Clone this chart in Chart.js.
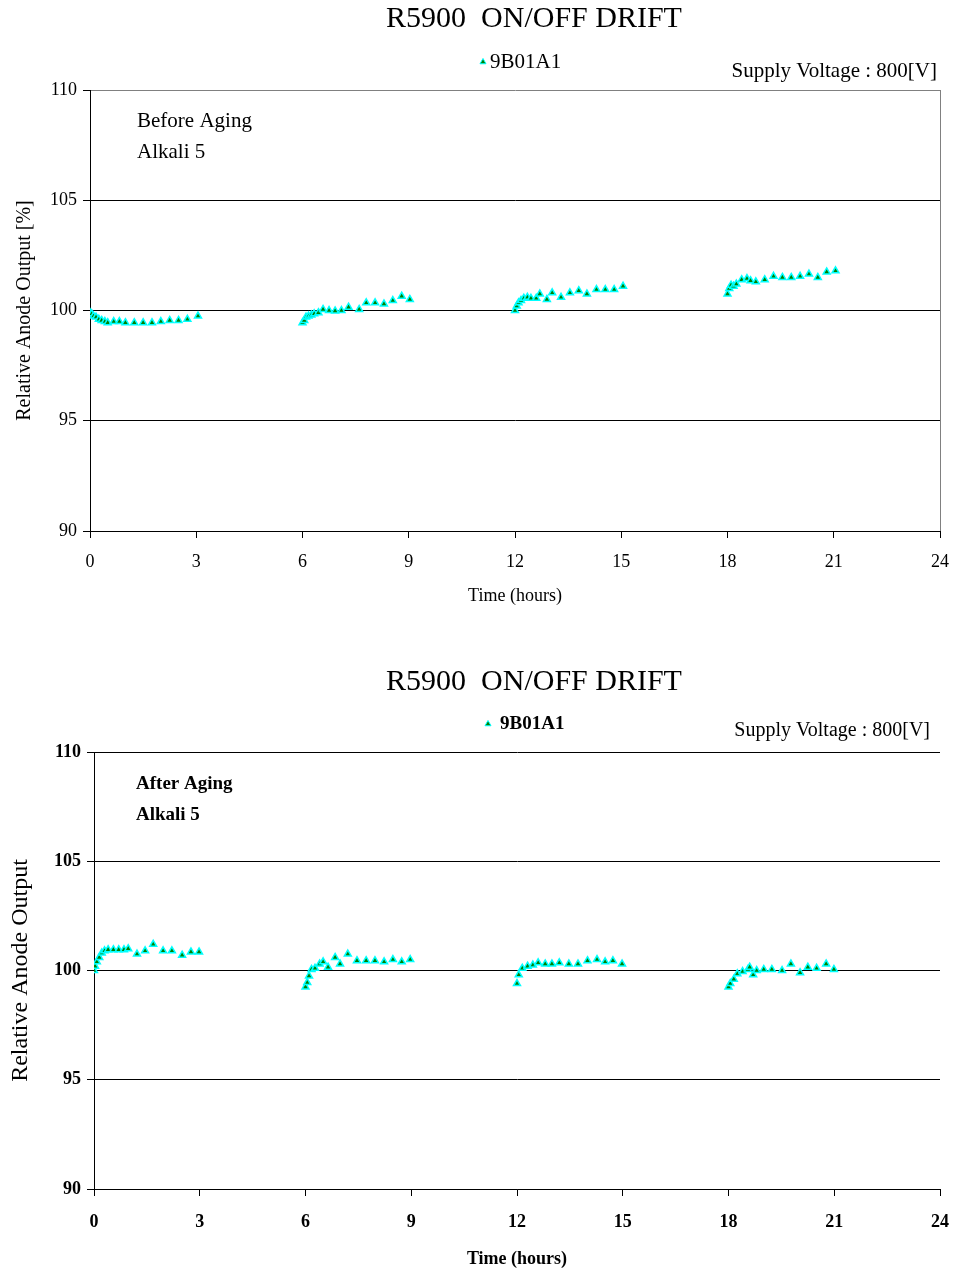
<!DOCTYPE html>
<html>
<head>
<meta charset="utf-8">
<script src="https://cdn.jsdelivr.net/npm/chart.js@4.4.1/dist/chart.umd.min.js"></script>
<style>
  body { margin: 0; background: #fff; }
  .box { width: 957px; height: 636px; }
</style>
</head>
<body>
<div class="box"><canvas id="beforeChart" width="957" height="636"></canvas></div>
<div class="box"><canvas id="afterChart" width="957" height="636"></canvas></div>
<script>
// time axis ticks (hours) and output ticks (%)
const timeTicks = [0, 3, 6, 9, 12, 15, 18, 21, 24];
const outputTicks = [90, 95, 100, 105, 110];

// Before aging - 9B01A1
const hoursBefore = [
  0.00, 0.05, 0.10, 0.17, 0.25, 0.33, 0.42, 0.50, 0.67, 0.83, 1.00, 1.25, 1.50, 1.75, 2.00, 2.25, 2.50, 2.75, 3.05,
  6.00, 6.05, 6.10, 6.17, 6.25, 6.33, 6.45, 6.58, 6.75, 6.92, 7.10, 7.30, 7.60, 7.80, 8.05, 8.30, 8.55, 8.80, 9.03,
  12.00, 12.05, 12.10, 12.17, 12.25, 12.35, 12.45, 12.60, 12.70, 12.90, 13.05, 13.30, 13.55, 13.80, 14.03, 14.30, 14.55, 14.80, 15.05,
  18.00, 18.05, 18.10, 18.17, 18.25, 18.40, 18.55, 18.65, 18.80, 19.05, 19.30, 19.55, 19.80, 20.05, 20.30, 20.55, 20.80, 21.05
];
const outputBefore = [
  99.90, 99.85, 99.75, 99.70, 99.60, 99.55, 99.50, 99.45, 99.50, 99.50, 99.45, 99.45, 99.45, 99.45, 99.50, 99.55, 99.55, 99.60, 99.75,
  99.45, 99.55, 99.70, 99.75, 99.80, 99.85, 99.90, 100.05, 100.00, 99.98, 100.00, 100.15, 100.05, 100.35, 100.35, 100.30, 100.45, 100.65, 100.50,
  100.00, 100.20, 100.35, 100.45, 100.55, 100.60, 100.55, 100.55, 100.75, 100.50, 100.80, 100.60, 100.80, 100.90, 100.75, 100.95, 100.95, 100.95, 101.10,
  100.75, 101.00, 101.15, 101.10, 101.20, 101.40, 101.45, 101.35, 101.30, 101.40, 101.55, 101.50, 101.50, 101.55, 101.65, 101.50, 101.75, 101.80
];

// After aging - 9B01A1
const hoursAfter = [
  0.00, 0.03, 0.08, 0.15, 0.22, 0.30, 0.40, 0.55, 0.70, 0.85, 0.97, 1.22, 1.45, 1.68, 1.96, 2.21, 2.50, 2.75, 2.98,
  6.00, 6.05, 6.10, 6.17, 6.27, 6.40, 6.50, 6.64, 6.84, 6.98, 7.20, 7.46, 7.72, 7.97, 8.23, 8.48, 8.73, 8.97,
  12.00, 12.05, 12.15, 12.30, 12.45, 12.60, 12.80, 12.99, 13.20, 13.47, 13.73, 14.00, 14.27, 14.50, 14.72, 14.98,
  18.00, 18.05, 18.15, 18.25, 18.40, 18.55, 18.60, 18.70, 18.80, 19.00, 19.23, 19.52, 19.77, 20.03, 20.25, 20.50, 20.77, 20.99
];
const outputAfter = [
  100.00, 100.20, 100.40, 100.60, 100.80, 100.90, 100.95, 100.95, 100.95, 100.95, 101.00, 100.75, 100.90, 101.20, 100.90, 100.90, 100.70, 100.85, 100.85,
  99.25, 99.45, 99.75, 100.05, 100.10, 100.30, 100.40, 100.15, 100.60, 100.30, 100.75, 100.45, 100.45, 100.45, 100.40, 100.50, 100.40, 100.50,
  99.40, 99.80, 100.10, 100.20, 100.25, 100.35, 100.30, 100.30, 100.35, 100.30, 100.30, 100.45, 100.50, 100.40, 100.45, 100.30,
  99.25, 99.40, 99.60, 99.85, 99.95, 100.05, 100.15, 99.80, 100.00, 100.05, 100.05, 100.00, 100.30, 99.90, 100.15, 100.10, 100.30, 100.05
];

const SERIF = "'Liberation Serif', 'DejaVu Serif', serif";
const MARK_FILL = '#008000';
const MARK_EDGE = '#00ffff';

// title, legend and notes drawn on top
const notesPlugin = {
  id: 'notes',
  afterDraw(chart, args, o) {
    const ctx = chart.ctx;
    const a = chart.chartArea;
    ctx.save();
    ctx.fillStyle = '#000';
    ctx.textBaseline = 'middle';

    ctx.font = o.titleFont;
    ctx.textAlign = 'center';
    ctx.fillText(o.title, o.titleX, a.top + o.titleDy);

    ctx.fillStyle = MARK_FILL;
    ctx.strokeStyle = MARK_EDGE;
    Chart.helpers.drawPoint(ctx, {
      pointStyle: 'triangle', radius: 3.5, borderWidth: 1, rotation: 0
    }, o.legendX, a.top + o.legendDy);

    ctx.fillStyle = '#000';
    ctx.font = o.legendFont;
    ctx.textAlign = 'left';
    ctx.fillText(o.legend, o.legendTextX, a.top + o.legendDy);

    ctx.font = o.supplyFont;
    ctx.textAlign = 'right';
    ctx.fillText('Supply Voltage : 800[V]', o.supplyX, a.top + o.supplyDy);

    ctx.font = o.noteFont;
    ctx.textAlign = 'left';
    o.notes.forEach((t, i) => {
      ctx.fillText(t, a.left + o.notesDx, a.top + o.notesDy + i * 31);
    });
    ctx.restore();
  }
};

function makeChart(id, hours, output, s) {
  const points = hours.map((h, i) => ({ x: h, y: output[i] }));
  return new Chart(document.getElementById(id), {
    type: 'scatter',
    data: {
      datasets: [{
        label: '9B01A1',
        data: points,
        pointStyle: 'triangle',
        pointRadius: 4,
        pointHoverRadius: 4,
        backgroundColor: MARK_FILL,
        borderColor: MARK_EDGE,
        borderWidth: 1.5,
        showLine: false
      }]
    },
    options: {
      responsive: false,
      animation: false,
      devicePixelRatio: 1,
      layout: { padding: { top: s.top, left: 0, right: s.right, bottom: s.bottomPad } },
      plugins: {
        legend: { display: false },
        tooltip: { enabled: false },
        notes: s.notes
      },
      scales: {
        x: {
          type: 'linear',
          min: 0, max: 24,
          afterBuildTicks: sc => { sc.ticks = timeTicks.map(v => ({ value: v })); },
          afterFit: sc => {
            sc.height = s.xHeight;
            sc.paddingLeft = 0;
            sc.paddingRight = 0;
          },
          ticks: {
            color: '#000', padding: s.xTickPad,
            font: { family: SERIF, size: 18, weight: s.weight }
          },
          border: { color: '#000', width: 1 },
          grid: {
            drawOnChartArea: true,
            color: c => (c.tick && c.tick.value === 24 && s.frame) ? '#808080' : 'rgba(0,0,0,0)',
            tickColor: '#000', tickLength: 7, lineWidth: 1
          },
          title: {
            display: true, text: 'Time (hours)', color: '#000',
            font: { family: SERIF, size: 18, weight: s.weight },
            padding: { top: 0, bottom: s.xTitlePad }
          }
        },
        y: {
          min: 90, max: 110,
          afterBuildTicks: sc => { sc.ticks = outputTicks.map(v => ({ value: v })); },
          afterFit: sc => { sc.width = s.left; },
          ticks: {
            color: '#000', padding: 6,
            font: { family: SERIF, size: 18, weight: s.weight }
          },
          border: { color: '#000', width: 1 },
          grid: {
            color: c => (c.tick && c.tick.value === 110 && s.frame) ? '#808080' : '#000',
            tickColor: '#000', tickLength: 7, lineWidth: 1
          },
          title: {
            display: true, text: s.yTitle, color: '#000',
            font: { family: SERIF, size: s.yTitleSize },
            padding: { top: s.yTitlePad, bottom: 0 }
          }
        }
      }
    },
    plugins: [notesPlugin]
  });
}

makeChart('beforeChart', hoursBefore, outputBefore, {
  top: 90, left: 90, right: 17, bottomPad: 20, xHeight: 85, xTickPad: 13, xTitlePad: 9,
  weight: 'normal', frame: true,
  yTitle: 'Relative Anode Output [%]', yTitleSize: 20, yTitlePad: 13,
  notes: {
    title: 'R5900  ON/OFF DRIFT', titleFont: '30px ' + SERIF, titleX: 534, titleDy: -71,
    legend: '9B01A1', legendFont: '21px ' + SERIF, legendX: 483, legendTextX: 490, legendDy: -28,
    supplyFont: '21px ' + SERIF, supplyX: 937, supplyDy: -19,
    noteFont: '21px ' + SERIF, notes: ['Before Aging', 'Alkali 5'], notesDx: 47, notesDy: 31
  }
});

makeChart('afterChart', hoursAfter, outputAfter, {
  top: 116, left: 94, right: 17, bottomPad: 0, xHeight: 83, xTickPad: 16, xTitlePad: 2,
  weight: 'bold', frame: false,
  yTitle: 'Relative Anode Output', yTitleSize: 24, yTitlePad: 6,
  notes: {
    title: 'R5900  ON/OFF DRIFT', titleFont: '30px ' + SERIF, titleX: 534, titleDy: -70,
    legend: '9B01A1', legendFont: 'bold 19px ' + SERIF, legendX: 488, legendTextX: 500, legendDy: -28,
    supplyFont: '20px ' + SERIF, supplyX: 930, supplyDy: -21,
    noteFont: 'bold 19px ' + SERIF, notes: ['After Aging', 'Alkali 5'], notesDx: 42, notesDy: 32
  }
});
</script>
</body>
</html>
